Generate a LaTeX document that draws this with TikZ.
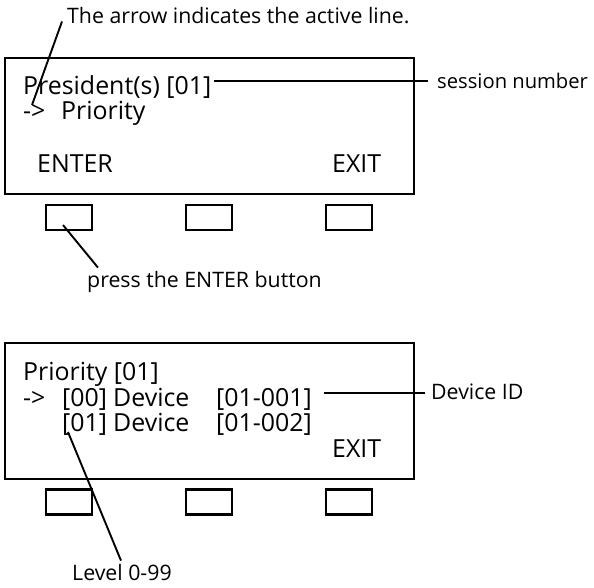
\documentclass[tikz,border=0pt]{standalone}
\usepackage{fontspec}
\setmainfont{Open Sans}
\usetikzlibrary{positioning}

\begin{document}
\begin{tikzpicture}[x=1pt, y=-1pt,
    screen/.style={line width=2.8pt},
    keybox/.style={draw, line width=2.6pt, minimum width=46pt, minimum height=25pt, inner sep=0pt},
    lcd/.style={anchor=base west, inner sep=0pt, font=\fontsize{24.9}{28}\selectfont},
    note/.style={anchor=base west, inner sep=0pt, font=\fontsize{21.3}{24}\selectfont},
    leader/.style={line width=1.9pt}]
  \useasboundingbox (0,0) rectangle (594,588);

  % first screen
  \draw[screen] (5,58) rectangle (414,194);
  \node[lcd] (presA) at (23,95) {President(s) [01]};
  \node[lcd] (cursorA) at (23,120) {->};
  \node[lcd] (prioA) at (61,120) {Priority};
  \node[lcd] (enterA) at (37,173) {ENTER};
  \node[lcd] (exitA) at (332,173) {EXIT};

  % second screen
  \draw[screen] (5,343) rectangle (414,479);
  \node[lcd] (prioB) at (23,380) {Priority [01]};
  \node[lcd] (cursorB) at (23,406) {->};
  \node[lcd] (levA) at (62,406) {[00]};
  \node[lcd] (devA) at (113,406) {Device};
  \node[lcd] (idA) at (216,406) {[01-001]};
  \node[lcd] (levB) at (62,431) {[01]};
  \node[lcd] (devB) at (113,431) {Device};
  \node[lcd] (idB) at (216,431) {[01-002]};
  \node[lcd] (exitB) at (332,457) {EXIT};

  % keys under both screens
  \foreach \x [count=\i] in {69,209,349} {
    \node[keybox] (keyA\i) at (\x,217.5) {};
    \node[keybox] (keyB\i) at (\x,502) {};
  }

  % notes
  \node[note] (arrowNote) at (67,24) {The arrow indicates the active line.};
  \node[note, font=\fontsize{20.2}{23}\selectfont] (sessionNote) at (437,89) {session number};
  \node[note] (pressNote) at (87,287) {press the ENTER button};
  \node[note] (devidNote) at (431,399) {Device ID};
  \node[note] (levelNote) at (72,580) {Level 0-99};
  \coordinate (devidEnd) at ([shift={(-6,2)}]devidNote.west);

  % leaders
  \draw[leader] ([shift={(-5,-3)}]arrowNote.south west) -- ([shift={(9,-15)}]cursorA.base west);
  \draw[leader] ([xshift=3pt]presA.east |- sessionNote.west) -- ([xshift=-9pt]sessionNote.west);
  \draw[leader] ([shift={(-6,7.5)}]keyA1.center) -- ([shift={(11,-3)}]pressNote.north west);
  \draw[leader] ([xshift=12pt]idA.east |- devidEnd) -- (devidEnd);
  \draw[leader] ([shift={(6,1)}]levB.base west) -- ([shift={(49,-3)}]levelNote.north west);
\end{tikzpicture}
\end{document}
